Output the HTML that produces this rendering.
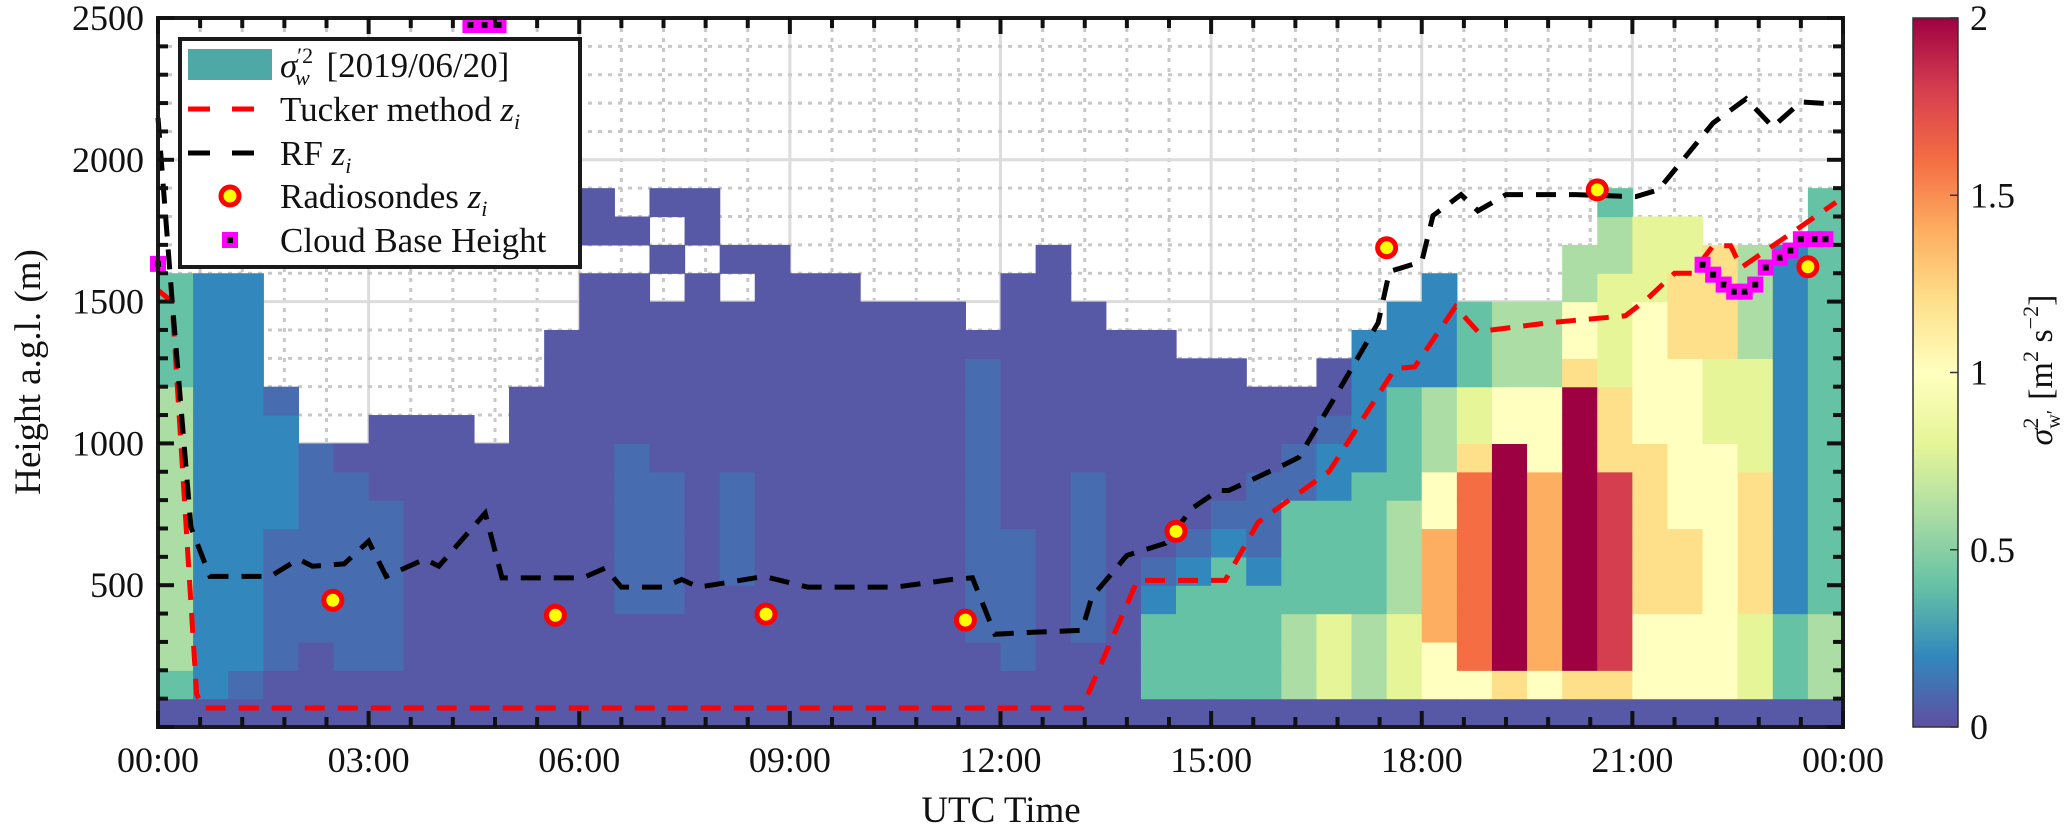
<!DOCTYPE html>
<html><head><meta charset="utf-8"><title>Vertical velocity variance</title>
<style>
html,body{margin:0;padding:0;background:#fff;}
svg{display:block;font-family:"Liberation Serif",serif;}
</style></head>
<body>
<svg id="chart" xmlns="http://www.w3.org/2000/svg" width="2067" height="831" viewBox="0 0 2067 831">
  <g id="grid"></g>
  <g id="heatmap"></g>
  <g id="series"></g>
  <g id="axes"></g>
  <g id="colorbar"></g>
  <g id="legend"></g>
</svg>
<script>
// ---- data ----
const xTickLabels = ["00:00","03:00","06:00","09:00","12:00","15:00","18:00","21:00","00:00"];
const yTickValues = [500,1000,1500,2000,2500];
const cbTickValues = [0,0.5,1,1.5,2];
const cbTickLabels = ["0","0.5","1","1.5","2"];
// each string = one 30-min column, bottom (0-100 m) to top in 100 m bins
// codes: '0'=0.03, 'b'=0.1, digits d = d/5, 'A'=2, '.' = no data
const varianceColumns = [
"0233333333332222","0111111111111111","0b11111111111111","00bbbbb1111b","000bbbbbbb","00bbbbbbb0",
"00bbbbbb000","00000000000","00000000000","0000000000","000000000000","00000000000000",
"0000000000000000.00","0000bbbbbb000000.0","0000bbbbb000000.0.0","0000000000000000.00","00000bbbb000000.0","00000000000000000",
"0000000000000000","0000000000000000","000000000000000","000000000000000","000000000000000","000bbbbbbbbbb0",
"00bbbbb000000000","00000000000000000","000bbbbbb000000","00000000000000","02221b00000000","022221b000000",
"0222221b00000","022221bbb000","03332222bb00","0444222211b00","03332222211111","044433332222111",
"0557777553331111","058888888644222","06AAAAAAAA55333","057777777555333","06AAAAAAAAAA65533","0699999996664444332",
"055566666655555444","055566655555566644","05555555554446666","04446666644443333","02221111111111111","0333222222222222222"
];
const tuckerTimes = [0,0.2,0.55,0.65,13.16,13.95,15.2,15.67,16.68,17.62,17.9,18.48,18.8,19.8,20.9,21.2,21.6,21.85,22.15,22.4,22.55,23.9];
const tuckerHeights = [1540,1500,116,67,67,517,517,722,901,1264,1270,1482,1394,1425,1450,1507,1600,1600,1697,1697,1620,1850];
const rfTimes = [0,0.2,0.47,0.74,1.6,2.0,2.2,2.65,3.0,3.25,3.8,4.0,4.66,4.9,6.05,6.37,6.6,7.2,7.46,7.7,8.63,9.26,10.5,11.3,11.6,11.92,12.46,13.16,13.3,13.8,14.35,14.73,15.1,15.25,16.05,16.25,16.77,17.38,17.54,18.0,18.16,18.56,18.8,19.2,20.2,21.05,21.37,22.15,22.62,23.0,23.4,23.87];
const rfHeights = [2148,1507,704,531,531,592,567,575,655,531,592,567,754,526,526,560,493,493,520,493,531,493,493,520,526,327,334,341,458,605,648,771,834,834,926,951,1166,1426,1606,1641,1803,1877,1820,1877,1877,1870,1894,2130,2215,2116,2204,2197];
const sondeTimes = [2.49,5.66,8.66,11.5,14.5,17.5,20.5,23.5];
const sondeHeights = [447,394,398,377,690,1690,1894,1623];
const cloudTimes = [0,4.45,4.65,4.85,22.0,22.15,22.3,22.45,22.6,22.75,22.9,23.1,23.25,23.4,23.6,23.75];
const cloudHeights = [1633,2480,2480,2480,1630,1595,1560,1535,1535,1560,1620,1655,1680,1720,1720,1720];

// ---- layout ----
const PL=158, PR=1843, PT=18, PB=727;
const X = t => PL + (t/24)*(PR-PL);
const Y = h => PB - (h/2500)*(PB-PT);
const NS="http://www.w3.org/2000/svg";
function mk(tag, attrs, parent){const e=document.createElementNS(NS,tag);for(const k in attrs)e.setAttribute(k,attrs[k]);parent.appendChild(e);return e;}
const stops=[[0,[94,79,162]],[0.2,[50,136,189]],[0.4,[102,194,165]],[0.6,[171,221,164]],[0.8,[230,245,152]],[1.0,[255,255,191]],[1.2,[254,224,139]],[1.4,[253,174,97]],[1.6,[244,109,67]],[1.8,[213,62,79]],[2.0,[158,1,66]]];
function cmap(v){v=Math.max(0,Math.min(2,v));for(let i=1;i<stops.length;i++){if(v<=stops[i][0]){const a=stops[i-1],b=stops[i],f=(v-a[0])/(b[0]-a[0]);return `rgb(${a[1].map((c,j)=>Math.round(c+(b[1][j]-c)*f)).join(',')})`;}}return 'rgb(158,1,66)';}
function decode(c){if(c==='A')return 2;if(c==='b')return 0.1;if(c==='0')return 0.03;return parseInt(c,10)/5;}

// ---- grid ----
const grid=document.getElementById('grid');
for(let i=1;i<40;i++){const t=i*0.6;const x=X(t);const major=(i%5===0);
  const l=mk('line',{x1:x,x2:x,y1:PT,y2:PB,stroke:major?'#dcdcdc':'#c8c8c8','stroke-width':3,'stroke-dasharray':major?'none':'4 6'},grid);
  
  }
for(let h=100;h<2500;h+=100){const y=Y(h);const major=(h%500===0);
  const l=mk('line',{x1:PL,x2:PR,y1:y,y2:y,stroke:major?'#dcdcdc':'#c8c8c8','stroke-width':3,'stroke-dasharray':major?'none':'4 6'},grid);
  
  }

// ---- heatmap ----
const hm=document.getElementById('heatmap');
varianceColumns.forEach((col,i)=>{
  for(let r=0;r<col.length;r++){const c=col[r];if(c==='.')continue;
    const v=decode(c);
    const x0=X(i*0.5),x1=X(i*0.5+0.5),y0=Y((r+1)*100),y1=Y(r*100);
    const rc=mk('rect',{x:x0,y:y0,width:x1-x0+0.6,height:y1-y0+0.6,fill:cmap(v)},hm);
    
    }
});

// ---- series ----
const sg=document.getElementById('series');
function poly(ts,hs,color,name){const p=mk('polyline',{points:ts.map((t,i)=>X(t)+','+Y(hs[i])).join(' '),fill:'none',stroke:color,'stroke-width':5,'stroke-dasharray':'20 13'},sg);
  
  }
poly(tuckerTimes,tuckerHeights,'#ff0000','tucker-zi-line');
poly(rfTimes,rfHeights,'#000000','rf-zi-line');
sondeTimes.forEach((t,i)=>{const g=mk('g',{},sg);
  
  
  mk('circle',{cx:X(t),cy:Y(sondeHeights[i]),r:9,fill:'#ffff00',stroke:'#ff0000','stroke-width':5},g);});
cloudTimes.forEach((t,i)=>{const g=mk('g',{},sg);
  
  
  const x=X(t),y=Math.max(PT+7,Y(cloudHeights[i]));
  mk('rect',{x:x-8,y:y-8,width:16,height:16,fill:'#ff00ff'},g);
  mk('rect',{x:x-3,y:y-3,width:6,height:6,fill:'#000'},g);});

// ---- axes ----
const ax=document.getElementById('axes');
const frame=mk('rect',{x:PL,y:PT,width:PR-PL,height:PB-PT,fill:'none',stroke:'#1a1a1a','stroke-width':4},ax);


for(let i=0;i<=40;i++){const x=X(i*0.6);const len=(i%5===0)?16:10;
  mk('line',{x1:x,x2:x,y1:PT,y2:PT+len,stroke:'#111','stroke-width':4},ax);
  mk('line',{x1:x,x2:x,y1:PB,y2:PB-len,stroke:'#111','stroke-width':4},ax);}
for(let h=0;h<=2500;h+=100){const y=Y(h);const len=(h%500===0)?16:10;
  mk('line',{x1:PL,x2:PL+len,y1:y,y2:y,stroke:'#111','stroke-width':4},ax);
  mk('line',{x1:PR,x2:PR-len,y1:y,y2:y,stroke:'#111','stroke-width':4},ax);}
xTickLabels.forEach((s,i)=>{const t=mk('text',{x:X(i*3),y:772,'text-anchor':'middle','font-size':36,fill:'#111'},ax);t.textContent=s;
  
  });
yTickValues.forEach(v=>{const t=mk('text',{x:144,y:Y(v)+12,'text-anchor':'end','font-size':36,fill:'#111'},ax);t.textContent=String(v);
  
  });
const xt=mk('text',{x:1001,y:822,'text-anchor':'middle','font-size':37,fill:'#111'},ax);xt.textContent='UTC Time';


const yt=mk('text',{x:0,y:0,'text-anchor':'middle','font-size':37,fill:'#111',transform:'translate(40,372) rotate(-90)'},ax);yt.textContent='Height a.g.l. (m)';



// ---- colorbar ----
const cb=document.getElementById('colorbar');
const defs=mk('defs',{},cb);
const lg=mk('linearGradient',{id:'cbg',x1:0,y1:1,x2:0,y2:0},defs);
stops.forEach(s=>mk('stop',{offset:s[0]/2,'stop-color':`rgb(${s[1].join(',')})`},lg));
const CBT=18,CBB=727;
const cbr=mk('rect',{x:1913,y:CBT,width:45,height:CBB-CBT,fill:'url(#cbg)',stroke:'#333','stroke-width':1.5},cb);


cbTickValues.forEach((v,i)=>{const y=CBB-(v/2)*(CBB-CBT);
  mk('line',{x1:1950,x2:1958,y1:y,y2:y,stroke:'#333','stroke-width':1.5},cb);
  const t=mk('text',{x:1970,y:y+12,'font-size':36,fill:'#111'},cb);t.textContent=cbTickLabels[i];
  
  });
const cbt=mk('text',{x:0,y:0,'text-anchor':'middle','font-size':34,fill:'#111',transform:'translate(2052,370) rotate(-90)'},cb);
cbt.innerHTML='<tspan font-style="italic">σ</tspan><tspan font-size="22" dy="-14">2</tspan><tspan font-size="20" dy="22" dx="-11">w′</tspan><tspan dy="-8" dx="10">[m</tspan><tspan font-size="22" dy="-14">2</tspan><tspan dy="14"> s</tspan><tspan font-size="22" dy="-14">−2</tspan><tspan dy="14">]</tspan>';



// ---- legend ----
const L=document.getElementById('legend');
const lb=mk('rect',{x:180,y:39,width:400,height:228,fill:'#fff',stroke:'#1a1a1a','stroke-width':4},L);


const rows=[65,109,153,196,240];
const patch=mk('rect',{x:188,y:49,width:84,height:31,fill:'#4ea9a6'},L);


mk('line',{x1:188,x2:254,y1:rows[1],y2:rows[1],stroke:'#ff0000','stroke-width':5,'stroke-dasharray':'22 22'},L);
mk('line',{x1:188,x2:254,y1:rows[2],y2:rows[2],stroke:'#000','stroke-width':5,'stroke-dasharray':'22 22'},L);
mk('circle',{cx:230,cy:rows[3],r:9,fill:'#ffff00',stroke:'#ff0000','stroke-width':5},L);
mk('rect',{x:222,y:rows[4]-8,width:16,height:16,fill:'#ff00ff'},L);
mk('rect',{x:227,y:rows[4]-3,width:6,height:6,fill:'#000'},L);
const labels=[
 '<tspan font-style="italic">σ</tspan><tspan font-size="22" dy="-14">′2</tspan><tspan font-size="22" font-style="italic" dy="22" dx="-18">w</tspan><tspan dy="-8" dx="8"> [2019/06/20]</tspan>',
 'Tucker method <tspan font-style="italic">z</tspan><tspan font-size="22" font-style="italic" dy="8">i</tspan>',
 'RF <tspan font-style="italic">z</tspan><tspan font-size="22" font-style="italic" dy="8">i</tspan>',
 'Radiosondes <tspan font-style="italic">z</tspan><tspan font-size="22" font-style="italic" dy="8">i</tspan>',
 'Cloud Base Height'];
const lnames=['legend-entry-variance','legend-entry-tucker','legend-entry-rf','legend-entry-radiosondes','legend-entry-cloud-base'];
labels.forEach((s,i)=>{const t=mk('text',{x:280,y:rows[i]+12,'font-size':35,fill:'#111'},L);t.innerHTML=s;
  
  });
</script>
</body></html>
